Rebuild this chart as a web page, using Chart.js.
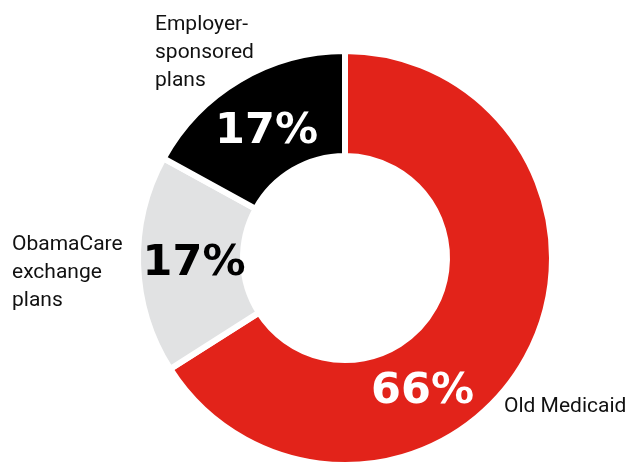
<!DOCTYPE html>
<html>
<head>
<meta charset="utf-8">
<script src="https://cdn.jsdelivr.net/npm/chart.js@4/dist/chart.umd.min.js"></script>
<style>
  html, body { margin: 0; padding: 0; background: #fff; overflow: hidden; }
  #wrap { width: 631px; height: 480px; position: relative; }
</style>
</head>
<body>
<div id="wrap"><canvas id="c" width="631" height="480"></canvas></div>
<script>
const categories = ["Old Medicaid", "ObamaCare exchange plans", "Employer-sponsored plans"];
const shares = [66, 17, 17];
const percentLabels = ["66%", "17%", "17%"];
const categoryLines = [["Old Medicaid"], ["ObamaCare", "exchange", "plans"], ["Employer-", "sponsored", "plans"]];
const sliceColors = ["#E2231A", "#E1E2E3", "#000000"];
const percentColors = ["#FFFFFF", "#000000", "#FFFFFF"];

// label placement relative to the doughnut centre (px)
const pctOffsets = [[77.5, 145], [-151, 17], [-78.5, -115]];
const catAnchors = [[159, 154], [-333, -8], [-190, -228]];
const LINE_H = 28;

const labelPlugin = {
  id: 'labels',
  afterDatasetsDraw(chart) {
    const ctx = chart.ctx;
    const meta = chart.getDatasetMeta(0);
    const arc0 = meta.data[0];
    const cx = arc0.x, cy = arc0.y;
    ctx.save();
    ctx.textAlign = 'center';
    ctx.textBaseline = 'alphabetic';
    ctx.font = 'bold 43px "DejaVu Sans", sans-serif';
    percentLabels.forEach((t, i) => {
      ctx.fillStyle = percentColors[i];
      ctx.fillText(t, cx + pctOffsets[i][0], cy + pctOffsets[i][1]);
    });
    ctx.textAlign = 'left';
    ctx.font = '21px Roboto, sans-serif';
    ctx.fillStyle = '#111';
    categoryLines.forEach((lines, i) => {
      lines.forEach((ln, j) => {
        ctx.fillText(ln, cx + catAnchors[i][0], cy + catAnchors[i][1] + j * LINE_H);
      });
    });
    ctx.restore();
  }
};

new Chart(document.getElementById('c'), {
  type: 'doughnut',
  data: {
    labels: categories,
    datasets: [{
      data: shares,
      backgroundColor: sliceColors,
      borderColor: '#FFFFFF',
      borderWidth: 6,
      hoverOffset: 0
    }]
  },
  options: {
    responsive: false,
    animation: false,
    cutout: 102,
    layout: { padding: { left: 135, right: 76, top: 48, bottom: 12 } },
    plugins: { legend: { display: false }, tooltip: { enabled: false } },
    events: []
  },
  plugins: [labelPlugin]
});
</script>
</body>
</html>
